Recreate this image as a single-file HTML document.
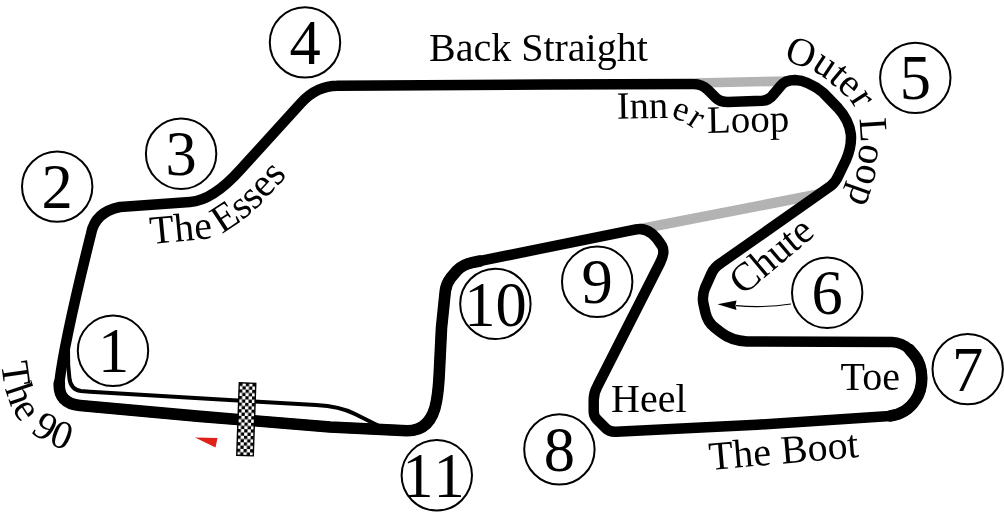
<!DOCTYPE html>
<html><head><meta charset="utf-8"><title>Track map</title>
<style>
html,body{margin:0;padding:0;background:#fff;}
svg{display:block;font-family:"Liberation Serif",serif;}
.trk{fill:none;stroke:#000;stroke-width:10.5;stroke-linejoin:round;stroke-linecap:round;}
.pit{fill:none;stroke:#000;stroke-width:4;stroke-linejoin:round;stroke-linecap:round;}
.gry{fill:none;stroke:#b3b3b3;}
.c{fill:#fff;stroke:#000;stroke-width:2;}
.n{font-size:62.5px;text-anchor:middle;font-kerning:none;}
.l{font-size:40px;}
</style></head>
<body>
<svg style="will-change:transform" width="1004" height="512" viewBox="0 0 1004 512">
<defs>
<pattern id="chk" x="238" y="383" width="6.6" height="6.6" patternUnits="userSpaceOnUse">
<rect width="6.6" height="6.6" fill="#fff"/><rect width="3.3" height="3.3" fill="#000"/><rect x="3.3" y="3.3" width="3.3" height="3.3" fill="#000"/>
</pattern>
<path id="p90" d="M 1.5 363 C 5 408 19 437 72 452 L 90 456"/>
<path id="pesses" d="M 221.5 234 Q 248 218 262 203 L 298 164"/>
<path id="pouter" d="M 781.0 57.0 C 783.2 58.1 788.0 60.8 794.0 63.5 C 800.0 66.2 809.2 68.2 817.0 73.0 C 824.8 77.8 835.0 86.7 841.0 92.0 C 847.0 97.3 850.0 100.3 853.0 105.0 C 856.0 109.7 857.8 114.2 859.0 120.0 C 860.2 125.8 860.6 134.1 860.5 140.0 C 860.4 145.9 859.2 150.4 858.6 155.5 C 858.0 160.6 858.2 165.2 857.1 170.8 C 856.0 176.4 853.8 183.4 851.9 188.9 C 850.0 194.4 848.3 198.8 846.0 204.0 C 843.7 209.2 839.3 217.3 838.0 220.0"/>
</defs>
<rect width="1004" height="512" fill="#fff"/>
<!-- grey alternate layouts -->
<path class="gry" d="M 695 83 L 790 81" stroke-width="9.6"/>
<path class="gry" d="M 632 230.5 L 821 193.85" stroke-width="10.2"/>
<!-- main track -->
<path class="trk" d="M 337 85.8 L 545 84.5 L 693 84 Q 702 84 708 90 L 716 98 Q 720 102 728 102 L 762 100.8 Q 769 100.3 773 95 L 781 85.5 Q 785.5 80 795 80 Q 808 80.5 823 92.5 L 838 108 Q 849 120 850.8 134 Q 852 146 846 160 L 838.5 175.5 Q 836 181.5 831 185.8 L 721 263 Q 714 267.5 711.5 273.5 L 705 288 Q 702 295.5 703.3 303 L 705.5 313 Q 707.5 321.5 714 327 L 721 332.5 Q 731 340.5 747 341.5 L 892 342 Q 902 342.3 909.5 349.5 L 915 356 Q 921.5 364 921.8 378 Q 921.8 391 915.5 400 Q 907 413.5 890 416 L 757 424.8 L 616 431.7 Q 609.5 432 606 428.5 L 596.5 419 Q 593.7 416 593.7 411 L 593.7 400 Q 593.7 393 597.5 386 L 660 263 Q 665.5 252 662 246 Q 650.5 226.4 636 229.3 L 472 262.6 Q 463 264.4 457 270.5 L 451 277.5 Q 446.3 283.5 445.3 291 L 441.5 328 L 439.3 373 Q 438.5 390 436.5 401 Q 431.5 430.8 407 430.8 L 330 427 L 200 416.4 L 80 405.5 Q 58 403.2 59.3 383 C 62 360 72 310 91 234 Q 95 212 120 207 L 190 202 Q 213 200.4 241 169 L 301 103 Q 317 85.6 338 85.8 Z"/>
<!-- thicker portions -->
<path d="M 480 261 L 472 262.6 Q 463 264.4 457 270.5 L 451 277.5 Q 446.3 283.5 445.3 291 L 441.5 328 L 439.3 373 Q 438.5 390 436.5 401 Q 431.5 430.8 407 430.8 L 330 427 L 200 416.4 L 80 405.5 Q 58 403.2 59.3 383" fill="none" stroke="#000" stroke-width="11.6" stroke-linejoin="round" stroke-linecap="round"/>
<path d="M 909.5 349.5 L 915 356 Q 921.5 364 921.8 378 Q 921.8 391 915.5 400 Q 907 413.5 890 416" fill="none" stroke="#000" stroke-width="11.5" stroke-linejoin="round" stroke-linecap="round"/>
<!-- pit lane -->
<path class="pit" d="M 68 348 L 68.2 365 L 69.4 378 Q 70.5 389.5 81 391 L 90 391.7 L 229 399.9 L 316 405.1 Q 340 406.5 355 414 L 386 429.5"/>
<!-- start/finish -->
<g transform="rotate(2 246 420)"><rect x="238" y="383" width="16.5" height="72.6" fill="url(#chk)" stroke="#000" stroke-width="1.4"/></g>
<path d="M 195 437.5 L 217.5 438 L 215.5 447.5 Z" fill="#e0201b"/>
<!-- arrow -->
<path d="M 791 304 Q 765 308 736 305.7" fill="none" stroke="#000" stroke-width="1.2"/>
<path d="M 717.5 304.2 L 736.5 300.5 L 735.5 305.5 L 736.5 310 Z" fill="#000"/>
<!-- circles -->
<g>
<circle class="c" cx="113" cy="350.8" r="35.2"/><text class="n" x="113.5" y="372.4">1</text>
<circle class="c" cx="57.2" cy="186.6" r="35.2"/><text class="n" x="57.2" y="208.2">2</text>
<circle class="c" cx="181.1" cy="153.7" r="35.2"/><text class="n" x="181.1" y="175.3">3</text>
<circle class="c" cx="305" cy="42.4" r="35.2"/><text class="n" x="305" y="64.0">4</text>
<circle class="c" cx="915.3" cy="77.85" r="35.2"/><text class="n" x="915.3" y="99.4">5</text>
<circle class="c" cx="827.2" cy="292.7" r="35.2"/><text class="n" x="827.2" y="314.3">6</text>
<circle class="c" cx="967.7" cy="369.1" r="35.2"/><text class="n" x="967.7" y="390.7">7</text>
<circle class="c" cx="559.4" cy="449.4" r="35.2"/><text class="n" x="559.4" y="471.0">8</text>
<circle class="c" cx="597.2" cy="281.8" r="35.2"/><text class="n" x="597.2" y="303.4">9</text>
<circle class="c" cx="495.4" cy="303.9" r="35.2"/><text class="n" x="495.4" y="325.5">10</text>
<circle class="c" cx="436.8" cy="475.3" r="35.2"/><text class="n" x="433.6" y="496.9">11</text>
</g>
<!-- labels -->
<text class="l" x="429" y="61.2">Back Straight</text>
<text class="l" x="840.5" y="389.5">Toe</text>
<text class="l" x="611" y="412.2">Heel</text>
<text class="l" transform="translate(710 470) rotate(-5)">The Boot</text>
<text class="l" transform="translate(743 296) rotate(-40)">Chute</text>
<text class="l" style="letter-spacing:1.1px"><textPath href="#p90">The 90</textPath></text>
<text class="l" transform="translate(151 244) rotate(-5.5)">The</text>
<text class="l"><textPath href="#pesses">Esses</textPath></text>
<text class="l" style="font-size:38.5px" transform="translate(617 118.8) rotate(-1)">Inn</text>
<text class="l" style="font-size:35px" transform="translate(670.5 117) rotate(20)">e</text>
<text class="l" style="font-size:35px" transform="translate(686 123.4) rotate(33)">r</text>
<text class="l" style="font-size:39px" transform="translate(707.3 133) rotate(-1.2)">Loop</text>
<text class="l" style="word-spacing:-1.5px"><textPath href="#pouter" startOffset="3">Outer Loop</textPath></text>
</svg>
</body></html>
